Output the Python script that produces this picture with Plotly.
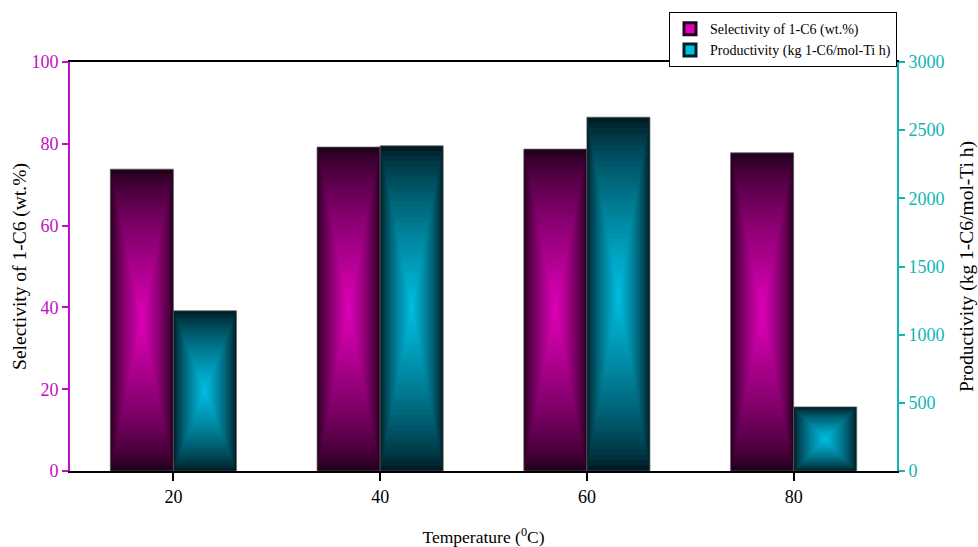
import plotly.graph_objects as go

temps = [20, 40, 60, 80]
selectivity = [73.8, 79.2, 78.7, 77.8]
productivity = [1175, 2385, 2595, 470]

sel_name = "Selectivity of 1-C6 (wt.%)"
prod_name = "Productivity (kg 1-C6/mol-Ti h)"

MAG_EDGE = (35, 0, 28)
MAG_CENTER = (225, 0, 185)
CYA_EDGE = (0, 28, 36)
CYA_CENTER = (0, 192, 228)
LEFT_COLOR = "#c010c0"
RIGHT_COLOR = "#10b5b5"
FONT = "Liberation Serif"


def mix(edge, center, t):
    f = t ** 0.75
    return "rgb(%d,%d,%d)" % tuple(round(e + (c - e) * f) for e, c in zip(edge, center))


fig = go.Figure()
N = 32
bar_w = 6.1
series = [
    (selectivity, "y", -bar_w / 2, MAG_EDGE, MAG_CENTER),
    (productivity, "y2", bar_w / 2, CYA_EDGE, CYA_CENTER),
]
for vals, yax, coff, edge, center in series:
    for k in range(N):
        t = k / N
        s = 1 - t
        fig.add_trace(go.Bar(
            x=temps,
            y=[v * s for v in vals],
            base=[v * t / 2 for v in vals],
            width=bar_w * s,
            offset=coff - bar_w * s / 2,
            marker=dict(color=mix(edge, center, t),
                        line=dict(width=1 if k == 0 else 0, color="rgba(90,90,90,0.7)")),
            yaxis=yax,
            showlegend=False,
            hoverinfo="skip",
        ))

# legend entries
fig.add_trace(go.Bar(x=[None], y=[None], name=sel_name,
                     marker=dict(color=mix(MAG_EDGE, MAG_CENTER, 1), line=dict(color="rgb(35,0,28)", width=3))))
fig.add_trace(go.Bar(x=[None], y=[None], name=prod_name, yaxis="y2",
                     marker=dict(color=mix(CYA_EDGE, CYA_CENTER, 1), line=dict(color="rgb(0,28,36)", width=3))))

tick_font = lambda c: dict(family=FONT, size=18, color=c)
xtitle_font = dict(family=FONT, size=17.5, color="black")
ytitle_font = dict(family=FONT, size=19.5, color="black")

fig.update_layout(
    width=978, height=547,
    margin=dict(l=70, r=81, t=62, b=76, autoexpand=False),
    barmode="overlay",
    plot_bgcolor="white", paper_bgcolor="white",
    font=dict(family=FONT, size=16, color="black"),
    legend=dict(x=1, xanchor="right", y=1.122, yanchor="top",
                bordercolor="black", borderwidth=1, bgcolor="white",
                font=dict(family=FONT, size=14, color="black"),
                tracegroupgap=0, itemwidth=30),
    xaxis=dict(range=[10, 90], tickvals=temps, ticks="outside", ticklen=8, tickwidth=2,
               tickcolor="black", showline=True, linecolor="black", linewidth=2, mirror=True,
               showgrid=False, zeroline=False, automargin=False, tickfont=tick_font("black"),
               title=dict(text="Temperature (<sup>0</sup>C)", font=xtitle_font, standoff=28)),
    yaxis=dict(range=[0, 100], dtick=20, ticks="outside", ticklen=6, tickwidth=2,
               tickcolor=LEFT_COLOR, showline=True, linecolor=LEFT_COLOR, linewidth=2,
               tickfont=tick_font(LEFT_COLOR), showgrid=False, zeroline=False, automargin=False,
               title=dict(text=sel_name, font=ytitle_font, standoff=0)),
    yaxis2=dict(range=[0, 3000], dtick=500, overlaying="y", side="right", ticks="outside",
                ticklen=6, tickwidth=2, tickcolor=RIGHT_COLOR, showline=True,
                linecolor=RIGHT_COLOR, linewidth=2, tickfont=tick_font(RIGHT_COLOR),
                showgrid=False, zeroline=False, automargin=False,
                title=dict(text=prod_name, font=ytitle_font, standoff=24)),
)

fig.write_html("out.html")
